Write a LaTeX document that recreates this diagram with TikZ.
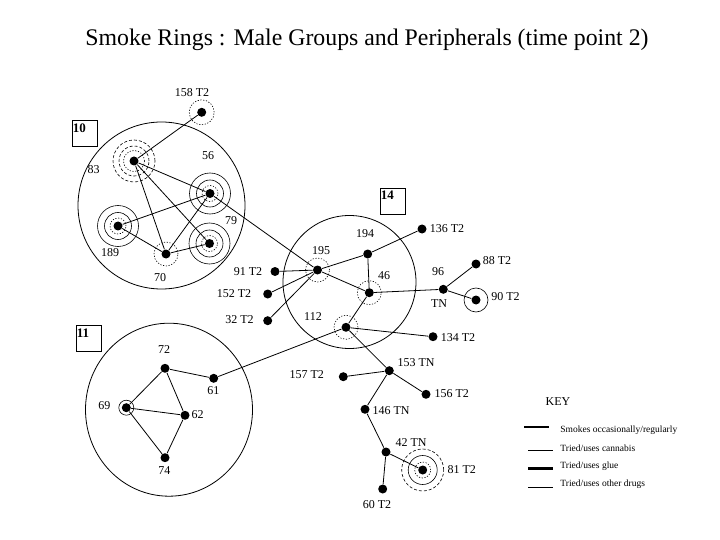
\documentclass[tikz,border=0pt]{standalone}
\usepackage{fontspec}
\setmainfont{Liberation Serif}
\begin{document}
\begin{tikzpicture}[x=1pt,y=-1pt,
  line width=0.8pt,
  dot/.style={circle,fill=black,inner sep=0pt,minimum size=9pt},
  lbl/.style={inner sep=0pt,font=\fontsize{12}{14}\selectfont},
  keytxt/.style={inner sep=0pt,anchor=west,font=\fontsize{9.5}{11}\selectfont},
  gbox/.style={draw,line width=0.8pt,minimum width=25pt,minimum height=26pt,inner sep=0pt},
  gnum/.style={inner sep=0pt,anchor=north west,font=\bfseries\fontsize{13}{15}\selectfont},
  ring/.style={line width=0.6pt},
  dashring/.style={line width=0.6pt,dash pattern=on 3pt off 2pt},
  dotring/.style={line width=0.6pt,dash pattern=on 1.2pt off 1.6pt}
]
\useasboundingbox (0,0) rectangle (720,540);

% title
\node[inner sep=0pt,font=\fontsize{23.8}{27}\selectfont] (title) at (367,40) {Smoke Rings : Male Groups and Peripherals (time point 2)};

% group circles
\draw (161.5,205.5) circle (83.5);
\draw (349.5,282) circle (66.5);
\draw (169,409.7) ellipse (83.5 and 86.5);

% group boxes
\node[gbox] (b10) at (84.5,133) {};
\node[gnum] (t10) at (72.5,123) {10};
\node[gbox] (b14) at (392.5,201) {};
\node[gnum] (t14) at (380.5,191) {14};
\node[gbox] (b11) at (88.5,338.5) {};
\node[gnum] (t11) at (76.5,328.5) {11};

% nodes
\node[dot] (A) at (134,161) {};
\node[dot] (B) at (210,193.5) {};
\node[dot] (C) at (118,226) {};
\node[dot] (D) at (209.5,243.5) {};
\node[dot] (E) at (166,254) {};
\node[dot] (n158) at (201.7,112.3) {};
\node[dot] (n91) at (275,271.5) {};
\node[dot] (n195) at (317.5,270) {};
\node[dot] (n194) at (367.7,254) {};
\node[dot] (n136) at (422,229) {};
\node[dot] (n46) at (369.3,292.7) {};
\node[dot] (n96) at (443.3,289.3) {};
\node[dot] (n88) at (476,264) {};
\node[dot] (n90) at (476,300) {};
\node[dot] (n152) at (267.7,294) {};
\node[dot] (n32) at (267.7,320.7) {};
\node[dot] (n112) at (346,327.3) {};
\node[dot] (n134) at (433,336.7) {};
\node[dot] (n72) at (165,368.3) {};
\node[dot] (n61) at (213.7,378.3) {};
\node[dot] (n69) at (126.3,407.7) {};
\node[dot] (n62) at (185,415.3) {};
\node[dot] (n74) at (165,457.7) {};
\node[dot] (n153) at (389.3,370.7) {};
\node[dot] (n157) at (343.3,376.7) {};
\node[dot] (n156) at (426,394.3) {};
\node[dot] (n146) at (365,409.3) {};
\node[dot] (n42) at (386,452) {};
\node[dot] (n81) at (422.7,470) {};
\node[dot] (n60) at (382.7,489) {};

% rings
\draw[dashring] (A) circle (21pt);
\draw[dashring] (A) circle (15pt);
\draw[dotring] (A) circle (10.5pt);
\foreach \n in {B,C,D}{
  \draw[ring] (\n) circle (20.5pt);
  \draw[ring] (\n) circle (13.5pt);
  \draw[dotring] (\n) circle (8pt);
}
\draw[dashring] (n81) circle (21pt);
\draw[ring] (n81) circle (14.5pt);
\draw[dotring] (n81) circle (8pt);
\draw[dotring] (n158) circle (12.5pt);
\draw[dotring] (E) circle (12pt);
\draw[dotring] (n195) circle (12pt);
\draw[dotring] (n46) circle (12pt);
\draw[dotring] (n112) circle (12pt);
\draw[ring] (n90) circle (12pt);
\draw[ring] (n69) circle (7.5pt);

% edges
\draw (A) -- (n158);
\draw (A) -- (B);
\draw (A) -- (E);
\draw (A) -- (D);
\draw (B) -- (C);
\draw (B) -- (E);
\draw (C) -- (E);
\draw (E) -- (D);
\draw (B) -- (n195);
\draw (n195) -- (n91);
\draw (n195) -- (n152);
\draw (n195) -- (n32);
\draw (n195) -- (n194);
\draw (n195) -- (n46);
\draw (n194) -- (n46);
\draw (n194) -- (n136);
\draw (n46) -- (n96);
\draw (n46) -- (n112);
\draw (n96) -- (n88);
\draw (n96) -- (n90);
\draw (n112) -- (n134);
\draw (n112) -- (n61);
\draw (n112) -- (n153);
\draw (n72) -- (n61);
\draw (n72) -- (n69);
\draw (n72) -- (n62);
\draw (n69) -- (n62);
\draw (n69) -- (n74);
\draw (n62) -- (n74);
\draw (n153) -- (n157);
\draw (n153) -- (n156);
\draw (n153) -- (n146);
\draw (n146) -- (n42);
\draw (n42) -- (n81);
\draw (n42) -- (n60);

% labels
\node[lbl] (l158) at (192,93) {158 T2};
\node[lbl] (l56) at (208,156) {56};
\node[lbl] (l83) at (93.5,170) {83};
\node[lbl] (l79) at (231,220.5) {79};
\node[lbl] (l189) at (110,253) {189};
\node[lbl] (l70) at (160,278) {70};
\node[lbl] (l91) at (248,271.5) {91 T2};
\node[lbl] (l195) at (321,251) {195};
\node[lbl] (l194) at (365,234) {194};
\node[lbl] (l136) at (447,229) {136 T2};
\node[lbl] (l46) at (384,276) {46};
\node[lbl] (l96) at (438,272) {96};
\node[lbl] (lTN) at (439,304) {TN};
\node[lbl] (l88) at (497,261) {88 T2};
\node[lbl] (l90) at (505.5,297) {90 T2};
\node[lbl] (l152) at (234,294) {152 T2};
\node[lbl] (l32) at (239.5,320) {32 T2};
\node[lbl] (l112) at (313,317) {112};
\node[lbl] (l134) at (458,337.5) {134 T2};
\node[lbl] (l72) at (164,350) {72};
\node[lbl] (l61) at (213.3,391) {61};
\node[lbl] (l69) at (104.3,406) {69};
\node[lbl] (l62) at (197.5,415) {62};
\node[lbl] (l74) at (164.3,471) {74};
\node[lbl] (l153) at (416,363) {153 TN};
\node[lbl] (l157) at (306.7,375) {157 T2};
\node[lbl] (l156) at (451.7,393.5) {156 T2};
\node[lbl] (l146) at (391,411) {146 TN};
\node[lbl] (l42) at (411,443) {42 TN};
\node[lbl] (l81) at (461.7,470) {81 T2};
\node[lbl] (l60) at (377,505) {60 T2};

% key
\node[lbl] (key) at (558,402) {KEY};
\coordinate (k1a) at (524.3,427); \coordinate (k1b) at (549.3,427);
\coordinate (k2a) at (528,450); \coordinate (k2b) at (553.3,450);
\coordinate (k3a) at (528,468.5); \coordinate (k3b) at (553.3,468.5);
\coordinate (k4a) at (528,487); \coordinate (k4b) at (553.3,487);
\draw[line width=1.8pt] (k1a) -- (k1b);
\draw[line width=0.7pt] (k2a) -- (k2b);
\draw[line width=2.8pt] (k3a) -- (k3b);
\draw[line width=0.7pt] (k4a) -- (k4b);
\node[keytxt] (kt1) at (560,430) {Smokes occasionally/regularly};
\node[keytxt] (kt2) at (560,448) {Tried/uses cannabis};
\node[keytxt] (kt3) at (560,466.5) {Tried/uses glue};
\node[keytxt] (kt4) at (560,484.5) {Tried/uses other drugs};
\end{tikzpicture}
\end{document}
